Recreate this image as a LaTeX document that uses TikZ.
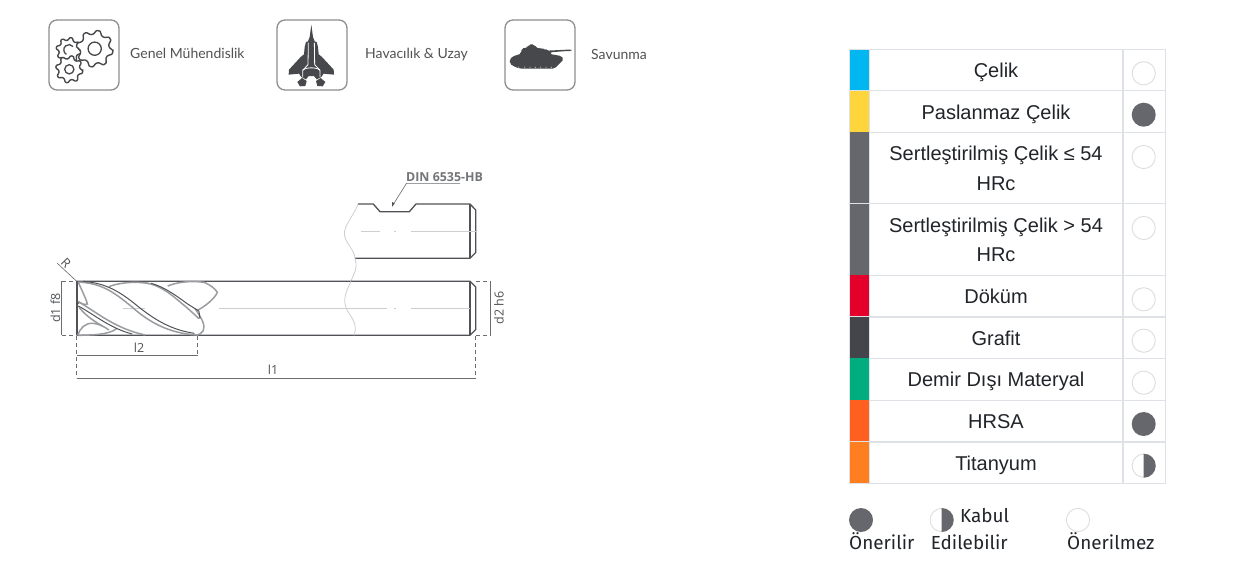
\documentclass[tikz,border=0pt]{standalone}
\usepackage{fontspec}
\setmainfont{Liberation Sans}
\newfontfamily\iconfont{Lato}
\newfontfamily\legfont{Fira Sans}
\newfontfamily\drawfont{Open Sans}
\definecolor{rowline}{HTML}{DEE2E6}
\definecolor{ink}{HTML}{212529}
\definecolor{dot}{HTML}{66676C}
\definecolor{ring}{HTML}{DDDDDD}
\definecolor{iconink}{HTML}{46484B}
\definecolor{framec}{HTML}{8E8E8E}
\definecolor{toolink}{HTML}{505256}
\definecolor{toolmid}{HTML}{9A9CA0}
\definecolor{toollight}{HTML}{CDCFD1}
\definecolor{mcyan}{HTML}{00B7F1}
\definecolor{myellow}{HTML}{FFD53E}
\definecolor{mgray}{HTML}{66676C}
\definecolor{mred}{HTML}{E4002B}
\definecolor{mdark}{HTML}{43454A}
\definecolor{mgreen}{HTML}{00AD7F}
\definecolor{morange}{HTML}{FF5F1F}
\definecolor{mamber}{HTML}{FF7F20}
\tikzset{
 iconbox/.style={draw=framec,line width=1.3pt,rounded corners=8pt,fill=white},
 icontext/.style={font=\iconfont\fontsize{14}{16}\selectfont,text=black!68,anchor=base west,inner sep=0pt},
 rowtext/.style={font=\fontsize{20}{24}\selectfont,text=ink,anchor=base,inner sep=0pt},
 legtext/.style={font=\legfont\fontsize{18.9}{22}\selectfont,text=ink,anchor=base west,inner sep=0pt},
 gearline/.style={draw=iconink,line width=1.4pt,fill=white,line join=round,rounded corners=.7pt},
 main/.style={draw=toolink,line width=1.3pt},
 fluted/.style={draw=toolmid,line width=1.5pt},
 fluteb/.style={draw=toolink,line width=1pt},
 breakline/.style={draw=toollight,line width=.8pt},
 axisline/.style={draw=toollight,line width=.8pt},
 dimline/.style={draw=toolink!85,line width=.6pt},
 dashline/.style={draw=toolink!85,line width=.6pt,dash pattern=on 4pt off 3pt},
 dimtext/.style={font=\drawfont\fontsize{12.5}{14}\selectfont,text=toolink,inner sep=0pt},
}
\newcommand\gearshape[4]{\filldraw[gearline] plot[domain=0:32,samples=33]
  ({#1+(mod(round(\x),4)<1.5?#3:#4)*cos(\x*11.25+6)},{#2+(mod(round(\x),4)<1.5?#3:#4)*sin(\x*11.25+6)}) -- cycle;}
\newcommand\ringdot[2]{\draw[ring,fill=white,line width=.9pt] (#1,#2) circle[radius=11.6];}
\newcommand\fulldot[2]{\fill[dot] (#1,#2) circle[radius=12];}
\newcommand\halfdot[2]{\ringdot{#1}{#2}\begin{scope}\clip (#1,#2-13) rectangle (#1+13,#2+13);\fill[dot] (#1,#2) circle[radius=12];\end{scope}}
\newcommand\matrow[3]{\fill[#3] (849.5,#1) rectangle (869,#2);\draw[rowline,line width=1.3pt] (849.5,#2) -- (1165.5,#2);}
\begin{document}
\begin{tikzpicture}[x=1pt,y=-1pt]
\useasboundingbox (0,0) rectangle (1252,570);
\fill[white] (0,0) rectangle (1252,570);
% icon frames
\draw[iconbox] (49,20) rectangle (119,90);
\draw[iconbox] (277,20) rectangle (347,90);
\draw[iconbox] (505,20) rectangle (575,90);
\node[icontext] (t1) at (130,58.5) {Genel Mühendislik};
\node[icontext] (t2) at (365,58.5) {Havacılık \& Uzay};
\node[icontext] (t3) at (591,59.5) {Savunma};
% gears
\gearshape{68.7}{50}{12.6}{9.8}
\draw[iconink,line width=1.3pt] (73,46.5) arc[start angle=-40,end angle=-240,radius=5.2];
\gearshape{69.3}{69.3}{13.6}{10.6}
\draw[iconink,line width=1.3pt] (69.3,69.3) circle[radius=4.6];
\gearshape{94.7}{48.7}{18.4}{14.6}
\draw[iconink,line width=1.3pt] (94.7,48.7) circle[radius=6.6];
% jet
\begin{scope}[shift={(282,22)},scale=1/3]
\fill[iconink] (88,8) -- (93,45) -- (98,58) -- (104,60) -- (108,75) -- (110,97) -- (120,105) -- (155,143) -- (156,158) -- (125,155) -- (118,165) -- (104,172) -- (96,162) -- (80,162) -- (72,172) -- (58,165) -- (51,155) -- (20,158) -- (21,143) -- (56,105) -- (66,97) -- (68,75) -- (72,60) -- (78,58) -- (83,45) -- cycle;
\fill[iconink] (46,180) -- (60,168) -- (74,177) -- (70,192) -- (54,193) -- cycle;
\fill[iconink] (130,180) -- (116,168) -- (102,177) -- (106,192) -- (122,193) -- cycle;
\draw[white,line width=.8pt] (79,62) -- (78,128) -- (62,145) -- (62,165);
\draw[white,line width=.8pt] (97,62) -- (98,128) -- (114,145) -- (114,165);
\draw[white,line width=.8pt] (62,145) .. controls (70,135) and (106,135) .. (114,145);
\end{scope}
% tank
\begin{scope}[shift={(508,35)},scale=1/3]
\fill[iconink,rounded corners=2pt] (5,74) -- (12,65) -- (40,56) -- (40,40) -- (60,38) -- (62,28) -- (80,28) -- (82,38) -- (112,42) -- (116,47) -- (178,44) -- (190,43) -- (190,49) -- (178,48) -- (125,52) -- (125,57) -- (160,63) -- (168,72) -- (150,90) -- (140,101) -- (35,101) -- (15,93) -- (5,85) -- cycle;
\foreach \p in {32,50,66,82,98,114,130}{\fill[white] (\p,96.5) circle[radius=1.5];}
\end{scope}
% drawing: upper shank
\draw[main,line join=round] (358,204) -- (373.3,204) -- (380,211.7) -- (409.3,211.7) -- (416,204) -- (470,204) -- (475.7,210) -- (475.7,252.5) -- (470,258.3) -- (355,258.3);
\draw[main] (470,204) -- (470,258.3);
\draw[breakline] (358,204) .. controls (352,220) and (340,228) .. (346,240) .. controls (350,248) and (354,250) .. (355,258.3) .. controls (358,268) and (354,274) .. (351,281);
\draw[axisline] (361,231) -- (380,231) (394,231) -- (396,231) (411,231) -- (476,231);
% lower shank
\draw[main] (76.7,281.3) -- (470,281.3) -- (475.7,287) -- (475.7,329.5) -- (470,335.3) -- (76.7,335.3);
\draw[main] (470,281.3) -- (470,335.3);
\draw[breakline] (351,281.3) .. controls (346,292) and (342,300) .. (347,310) .. controls (352,318) and (358,325) .. (354,335.3);
\draw[axisline] (123,308.5) -- (145,308.5) (219,308.5) -- (387,308.5) (394,308.5) -- (396,308.5) (411,308.5) -- (470,308.5);
% cutting part
\begin{scope}[shift={(45,250)},scale=1/3]
\draw[main,line width=1.7pt] (96,94) -- (96,256);
% lobes
\draw[fluted] (100,97) .. controls (110,120) and (125,150) .. (127,162) .. controls (118,166) and (108,160) .. (99,155);
\draw[fluted] (98,256) .. controls (105,235) and (120,218) .. (145,220) .. controls (165,222) and (180,232) .. (192,240);
\draw[fluted] (100,256) .. controls (140,255) and (190,255) .. (215,236);
\draw[fluted] (192,110) .. controls (215,100) and (265,92) .. (312,101);
\fill[white] (368,108) .. controls (400,95) and (440,92) .. (478,97) .. controls (495,105) and (510,115) .. (517,127) .. controls (510,145) and (480,170) .. (455,182) -- cycle;
\draw[main] (470,94) -- (478,94);
\draw[fluted] (368,108) .. controls (400,95) and (440,92) .. (478,97) .. controls (495,105) and (510,115) .. (517,127) .. controls (510,145) and (480,170) .. (455,182);
\draw[fluted] (450,176) .. controls (470,205) and (482,225) .. (475,242) .. controls (470,250) and (462,254) .. (455,256);
% band A
\draw[fluted] (100,96) .. controls (170,100) and (205,125) .. (260,170) .. controls (310,215) and (370,250) .. (455,255);
\draw[fluteb] (115,94) .. controls (185,100) and (225,125) .. (280,170) .. controls (330,210) and (380,240) .. (448,250);
% band B
\draw[fluted] (300,98) .. controls (340,105) and (370,125) .. (410,160) .. controls (425,172) and (445,190) .. (462,206);
\draw[fluteb] (318,100) .. controls (350,108) and (385,130) .. (425,160) .. controls (440,170) and (455,178) .. (462,184);
\draw[fluteb] (462,184) -- (465,206);
% band C
\draw[fluted] (100,155) .. controls (160,190) and (210,235) .. (300,255);
\draw[fluteb] (100,168) .. controls (150,195) and (195,235) .. (262,252);
\draw[fluted] (102,172) .. controls (125,200) and (150,215) .. (172,228);
\fill[toolink] (98,160) circle[radius=4];
\end{scope}
% dimensions
\draw[dashline] (62,281.3) -- (76,281.3) (62,335.3) -- (76,335.3);
\draw[dimline] (61.7,281.3) -- (61.7,335.3);
\node[dimtext,rotate=90] (d1) at (55.5,308) {d1 f8};
\draw[dashline] (476,281.3) -- (491,281.3) (476,335.3) -- (491,335.3);
\draw[dimline] (490.7,281.3) -- (490.7,335.3);
\node[dimtext,rotate=90] (d2) at (499,308) {d2 h6};
\draw[dashline] (76.7,336) -- (76.7,378) (197.7,336) -- (197.7,355) (475.7,336) -- (475.7,378);
\draw[dimline] (76.7,355) -- (197.7,355);
\draw[dimline] (76.7,378) -- (475.7,378);
\node[dimtext] (l2) at (139,348) {l2};
\node[dimtext] (l1) at (273,370) {l1};
\coordinate (rtip) at (76.7,281.3);
\coordinate (rend) at (57,263);
\draw[dimline] (rend) -- (rtip);
\node[dimtext,rotate=-45] (rr) at (66,263) {R};
\node[dimtext,anchor=base west,text=toolink!80,font=\drawfont\bfseries\fontsize{12.4}{14}\selectfont] (din) at (406,181) {DIN 6535-HB};
\coordinate (din1) at (460,183.3);
\coordinate (din2) at (406.5,183.3);
\coordinate (din3) at (392,206.5);
\draw[dimline] (din1) -- (din2) -- (din3);
\fill[toolink] (din3) -- ++(0.2,-4.5) -- ++(2.5,1.5) -- cycle;
% table
\draw[rowline,line width=1.3pt] (849.5,49.5) -- (1165.5,49.5);
\matrow{49.5}{90.8}{mcyan}
\matrow{90.8}{132.3}{myellow}
\matrow{132.3}{203.7}{mgray}
\matrow{203.7}{275.3}{mgray}
\matrow{275.3}{317}{mred}
\matrow{317}{358.4}{mdark}
\matrow{358.4}{400.2}{mgreen}
\matrow{400.2}{442}{morange}
\matrow{442}{483.3}{mamber}
\draw[rowline,line width=1.3pt] (849.5,49) -- (849.5,484) (1165.5,49) -- (1165.5,484);
\draw[rowline,line width=1.6pt] (1123,49) -- (1123,484);
\draw[rowline,line width=1pt] (869.3,49) -- (869.3,484);
\node[rowtext] (r1) at (996,77.5) {Çelik};
\node[rowtext] (r2) at (996,119.5) {Paslanmaz Çelik};
\node[rowtext] (r3a) at (996,160.5) {Sertleştirilmiş Çelik ≤ 54};
\node[rowtext] (r3b) at (996,190.5) {HRc};
\node[rowtext] (r4a) at (996,232.2) {Sertleştirilmiş Çelik > 54};
\node[rowtext] (r4b) at (996,261.8) {HRc};
\node[rowtext] (r5) at (996,303.4) {Döküm};
\node[rowtext] (r6) at (996,345.4) {Grafit};
\node[rowtext] (r7) at (996,386.4) {Demir Dışı Materyal};
\node[rowtext] (r8) at (996,428.4) {HRSA};
\node[rowtext] (r9) at (996,470.2) {Titanyum};
\ringdot{1143.7}{73.3}
\fulldot{1143.7}{114.7}
\ringdot{1143.7}{157}
\ringdot{1143.7}{228}
\ringdot{1143.7}{299.3}
\ringdot{1143.7}{340.7}
\ringdot{1143.7}{382.7}
\fulldot{1143.7}{424}
\halfdot{1143.7}{465.7}
% legend
\fulldot{861}{520}
\halfdot{941.7}{520}
\ringdot{1078}{520}
\node[legtext] (l-a) at (849,549.6) {Önerilir};
\node[legtext] (l-b) at (960,522) {Kabul};
\node[legtext] (l-c) at (930.7,549.6) {Edilebilir};
\node[legtext] (l-d) at (1067,549.6) {Önerilmez};
\end{tikzpicture}
\end{document}
